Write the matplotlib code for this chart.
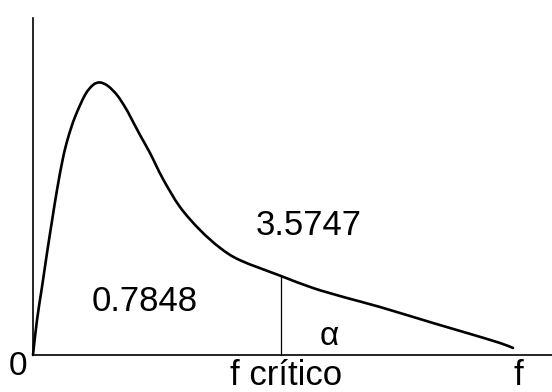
import matplotlib.pyplot as plt
import numpy as np
from matplotlib.path import Path
from matplotlib.patches import PathPatch

plt.rcParams['font.family'] = ['Liberation Sans', 'DejaVu Sans']

# curve (f values, density in arbitrary units)
f_vals = [0, 0.0577, 0.1297, 0.2018, 0.2738, 0.3459, 0.4324, 0.5045, 0.6053,
          0.7495, 0.8648, 0.9657, 1.0810, 1.2107, 1.3260, 1.3981, 1.5422,
          1.6864, 1.8737, 2.1188, 2.4070, 2.6953, 2.9836, 3.5747, 4.0358,
          4.5258, 5.0014, 5.7653, 6.2554, 6.7310, 6.9184]
density = [0, 0.0875, 0.17, 0.255, 0.335, 0.4125, 0.4925, 0.5425, 0.595,
           0.65, 0.675, 0.6813, 0.6725, 0.65, 0.62, 0.5975, 0.55,
           0.505, 0.44, 0.37, 0.3125, 0.268, 0.237, 0.1975, 0.1675,
           0.1425, 0.12, 0.08, 0.055, 0.03, 0.0175]

f_critico = 3.5747
y_critico = 0.1975
area_left = "0.7848"


def smooth_path(xs, ys):
    # catmull-rom through the points, written as cubic bezier segments
    pts = np.column_stack([xs, ys])
    verts = [pts[0]]
    codes = [Path.MOVETO]
    for i in range(len(pts) - 1):
        p0 = pts[max(i - 1, 0)]
        p1 = pts[i]
        p2 = pts[i + 1]
        p3 = pts[min(i + 2, len(pts) - 1)]
        verts += [p1 + (p2 - p0) / 6, p2 - (p3 - p1) / 6, p2]
        codes += [Path.CURVE4] * 3
    return Path(verts, codes)


fig = plt.figure(figsize=(5.52, 3.92), dpi=100)
ax = fig.add_axes([0, 0, 1, 1])
ax.set_xlim(-0.4756, 7.4805)
ax.set_ylim(-0.0925, 0.8875)
ax.axis('off')

ax.add_patch(PathPatch(smooth_path(f_vals, density), fill=False, edgecolor='black',
                       lw=1.9, capstyle='round', joinstyle='round'))
ax.plot([0, 0], [0, 0.8425], color='black', lw=1.2)
ax.plot([0, 7.49], [0, 0], color='black', lw=1.2)
ax.plot([f_critico, f_critico], [0, y_critico], color='black', lw=0.9)

ax.text(-0.216, -0.05, "0", fontsize=24, ha='center', va='baseline')
ax.text(3.65, -0.075, "f crítico", fontsize=25, ha='center', va='baseline')
ax.text(6.99, -0.075, "f", fontsize=25, ha='center', va='baseline')
ax.text(4.266, 0.025, "α", fontsize=24, ha='center', va='baseline')
ax.text(3.978, 0.30, "3.5747", fontsize=25, ha='center', va='baseline')
ax.text(1.614, 0.11, area_left, fontsize=25, ha='center', va='baseline')

fig.savefig("out.png", dpi=100)
